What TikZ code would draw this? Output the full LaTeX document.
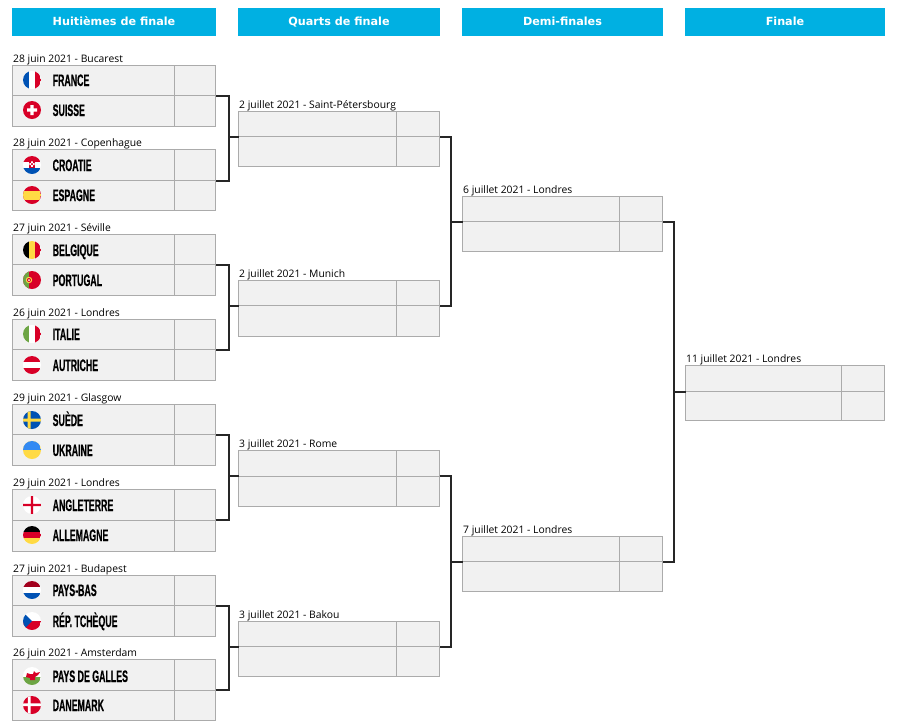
\documentclass[tikz,border=0pt]{standalone}
\usepackage{fontspec}
\setmainfont{Open Sans}
\newfontfamily\titrefont{DejaVu Sans}
\newfontfamily\equipefont[FakeStretch=0.53,BoldFeatures={FakeBold=0.5}]{Liberation Sans}
\definecolor{bleuentete}{HTML}{00B0E2}
\definecolor{fondcase}{HTML}{F1F1F1}
\definecolor{traitcase}{HTML}{ABABAB}
\definecolor{bleu}{HTML}{0052B4}
\definecolor{azur}{HTML}{338AF3}
\definecolor{rouge}{HTML}{D80027}
\definecolor{vert}{HTML}{6DA544}
\definecolor{jaune}{HTML}{FFDA44}
\definecolor{bordeaux}{HTML}{A2001D}
\tikzset{
  entete/.style={fill=bleuentete,text=white,anchor=center,minimum height=28pt,outer sep=0pt,text height=9pt,text depth=1.5pt,font=\titrefont\bfseries\fontsize{11.2}{13}\selectfont},
  rang/.style={draw=traitcase,fill=fondcase,line width=1pt,anchor=north west,outer sep=0pt,inner sep=0pt},
  dateplace/.style={anchor=base west,inner sep=0pt,font=\fontsize{10.35}{12}\selectfont},
  equipe/.style={anchor=base west,inner sep=0pt,font=\equipefont\bfseries\fontsize{16.6}{18}\selectfont},
  lien/.style={draw=black!85,line width=2pt},
  drapeau/.style={circle,minimum size=18pt,inner sep=0pt,outer sep=0pt,fill=white},
  bandesv/.style n args={3}{drapeau,path picture={
    \fill[#1] (-9,-9) rectangle (-3,9);
    \fill[#2] (-3,-9) rectangle (3,9);
    \fill[#3] (3,-9) rectangle (9,9);}},
  bandesh/.style n args={3}{drapeau,path picture={
    \fill[#1] (-9,-9) rectangle (9,-3);
    \fill[#2] (-9,-3) rectangle (9,3);
    \fill[#3] (-9,3) rectangle (9,9);}},
}
\begin{document}
\begin{tikzpicture}[x=1pt,y=-1pt]
\useasboundingbox (0,0) rectangle (900,724);
% titres
\node[entete,minimum width=204pt] (h1) at (114,22){Huitièmes de finale};
\node[entete,minimum width=202pt] (h2) at (339,22){Quarts de finale};
\node[entete,minimum width=201pt] (h3) at (562.5,22){Demi-finales};
\node[entete,minimum width=200pt] (h4) at (785,22){Finale};
% cases des matchs
\foreach \n/\xa/\xb/\xc/\ya/\yb/\yc/\lieu in {
  1/12.5/174.5/215.5/65.5/95.5/126/28 juin 2021 - Bucarest,
  2/12.5/174.5/215.5/149.5/180.5/210.5/28 juin 2021 - Copenhague,
  3/12.5/174.5/215.5/234.5/264.5/295/27 juin 2021 - Séville,
  4/12.5/174.5/215.5/319/349.5/380/26 juin 2021 - Londres,
  5/12.5/174.5/215.5/404.5/434.5/465/29 juin 2021 - Glasgow,
  6/12.5/174.5/215.5/489/520/551/29 juin 2021 - Londres,
  7/12.5/174.5/215.5/575.5/605.5/636/27 juin 2021 - Budapest,
  8/12.5/174.5/215.5/659.5/690/720/26 juin 2021 - Amsterdam,
  9/238.5/396/439.5/111/136.5/166/2 juillet 2021 - Saint-Pétersbourg,
  10/238.5/396/439.5/280.5/305.5/336.5/2 juillet 2021 - Munich,
  11/238.5/396/439.5/450.5/476/506/3 juillet 2021 - Rome,
  12/238.5/396/439.5/621/646.5/676/3 juillet 2021 - Bakou,
  13/462.5/619.5/662.5/196.5/221.5/251/6 juillet 2021 - Londres,
  14/462.5/619.5/662.5/536.5/561.5/591/7 juillet 2021 - Londres,
  15/685.5/841/884.5/365.5/391.5/420/11 juillet 2021 - Londres}{
  \node[rang,minimum width=\xb-\xa,minimum height=\yb-\ya] (m\n) at (\xa,\ya){};
  \node[rang,minimum width=\xc-\xb,minimum height=\yb-\ya] (sa\n) at (\xb,\ya){};
  \node[rang,minimum width=\xb-\xa,minimum height=\yc-\yb] (k\n) at (\xa,\yb){};
  \node[rang,minimum width=\xc-\xb,minimum height=\yc-\yb] (sb\n) at (\xb,\yb){};
  \node[dateplace] (d\n) at (\xa+0.5,\ya-3){\lieu};
}
% equipes
\foreach \n/\y/\nom in {1/80/FRANCE,2/110/SUISSE,3/165/CROATIE,4/195/ESPAGNE,
  5/250/BELGIQUE,6/280/PORTUGAL,7/334/ITALIE,8/365/AUTRICHE,
  9/420/SUÈDE,10/450/UKRAINE,11/505/ANGLETERRE,12/535/ALLEMAGNE,
  13/590/PAYS-BAS,14/621/RÉP. TCHÈQUE,15/676/PAYS DE GALLES,16/705/DANEMARK}{
  \node[equipe] (t\n) at (52.5,\y+6){\nom};
}
% drapeaux
\node[bandesv={bleu}{white}{rouge}] (f1) at (32,80){};
\node[drapeau,fill=rouge,path picture={\fill[white] (-5,-1.7) rectangle (5,1.7) (-1.7,-5) rectangle (1.7,5);}] (f2) at (32,110){};
\node[drapeau,path picture={
  \fill[rouge] (-9,-9) rectangle (9,-3);
  \fill[bleu] (-9,3) rectangle (9,9);
  \fill[rouge] (-2.7,-3.6) rectangle (2.7,2.7);
  \fill[white] (-0.9,-3.6) rectangle (0.9,-1.8) (-2.7,-1.8) rectangle (-0.9,0) (0.9,-1.8) rectangle (2.7,0) (-0.9,0) rectangle (0.9,1.8);}] (f3) at (32,165){};
\node[drapeau,fill=rouge,path picture={\fill[jaune] (-9,-4.5) rectangle (9,4.5);}] (f4) at (32,195){};
\node[bandesv={black}{jaune}{rouge}] (f5) at (32,250){};
\node[drapeau,fill=rouge,path picture={\fill[vert] (-9,-9) rectangle (-3,9);
  \fill[jaune] (-3,0) circle (3.2); \fill[rouge] (-3,0) circle (2); \fill[white] (-3,0) circle (1);}] (f6) at (32,280){};
\node[bandesv={vert}{white}{rouge}] (f7) at (32,334){};
\node[bandesh={rouge}{white}{rouge}] (f8) at (32,365){};
\node[drapeau,fill=bleu,path picture={\fill[jaune] (-4.5,-9) rectangle (-1.5,9) (-9,-1.5) rectangle (9,1.5);}] (f9) at (32,420){};
\node[drapeau,fill=jaune,path picture={\fill[azur] (-9,-9) rectangle (9,0);}] (f10) at (32,450){};
\node[drapeau,path picture={\fill[rouge] (-1.2,-9) rectangle (1.2,9) (-9,-1.2) rectangle (9,1.2);}] (f11) at (32,505){};
\node[bandesh={black}{rouge}{jaune}] (f12) at (32,535){};
\node[bandesh={bordeaux}{white}{bleu}] (f13) at (32,590){};
\node[drapeau,path picture={\fill[rouge] (-9,0) rectangle (9,9); \fill[bleu] (-9,-9) -- (0,0) -- (-9,9) -- cycle;}] (f14) at (32,621){};
\node[drapeau,path picture={\fill[vert] (-9,1) rectangle (9,9);
  \fill[rouge] (-6,1) -- (-5,-3) -- (-2,-2) -- (1,-2) -- (2,-5) -- (4,-3) -- (8,-4) -- (6,-1) -- (3,1) -- (3,4) -- (-2,4) -- (-2,2) -- cycle;}] (f15) at (32,676){};
\node[drapeau,fill=rouge,path picture={\fill[white] (-4.2,-9) rectangle (-1.4,9) (-9,-1.6) rectangle (9,1.2);}] (f16) at (32,705){};
% liens
\foreach \a/\b/\c/\g in {1/2/9/10,3/4/10/10,5/6/11/10,7/8/12/10,9/10/13/11.5,11/12/14/11.5,13/14/15/11.5}{
  \draw[lien] (m\c.south west) -- ++(-\g,0) coordinate (c\c);
  \draw[lien] (sa\a.south east) -| (c\c) |- (sa\b.south east);
}
\end{tikzpicture}
\end{document}
